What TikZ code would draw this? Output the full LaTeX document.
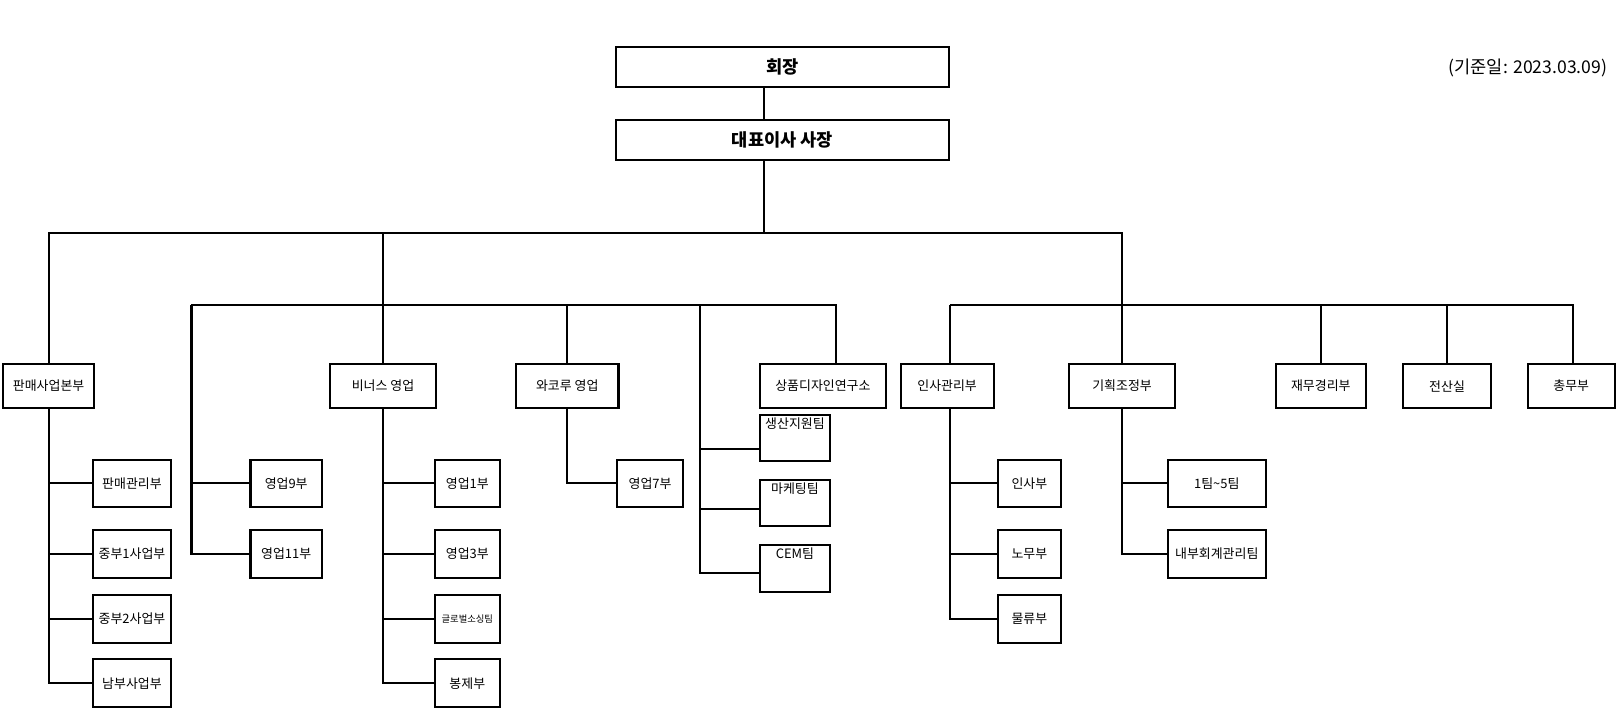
\documentclass[tikz,border=0pt]{standalone}
\usepackage{fontspec}
\setmainfont{Noto Sans CJK KR}
\tikzset{
    box/.style={draw,line width=2pt,inner sep=0pt,font=\fontsize{12.5}{14}\selectfont},
    topbox/.style={box,minimum width=321pt,minimum height=39pt,font=\fontsize{17}{20}\selectfont\bfseries},
    dept/.style={box,minimum height=42pt},
    team/.style={box,minimum height=46pt},
    hteam/.style={box,minimum height=45pt,text height=10pt,text depth=29pt}
}
\begin{document}
\begin{tikzpicture}[x=1pt,y=-1pt,line width=2pt]
    \useasboundingbox (0,0) rectangle (1567,688);
    % top
    \node [topbox] (chair) at (756,64.5) {회장};
    \node [topbox] (ceo) at (756,135.5) {대표이사 사장};
    \node [font=\fontsize{17}{20}\selectfont,anchor=east] (date) at (1557,66) {(기준일: 2023.03.09)};
    % departments
    \node [dept,minimum width=88pt] (hq) at (47,373) {판매사업본부};
    \node [dept,minimum width=103pt] (venus) at (370,373) {비너스 영업};
    \node [dept,minimum width=99pt] (wac) at (548,373) {와코루 영업};
    \node [dept,minimum width=121pt] (rnd) at (795,373) {상품디자인연구소};
    \node [dept,minimum width=90pt] (hrm) at (915,373) {인사관리부};
    \node [dept,minimum width=102pt] (gpl) at (1084,373) {기획조정부};
    \node [dept,minimum width=87pt] (fin) at (1276,373) {재무경리부};
    \node [dept,minimum width=85pt] (it) at (1398,373) {전산실};
    \node [dept,minimum width=84pt] (gen) at (1518,373) {총무부};
    % teams
    \node [team,minimum width=75pt] (hq1) at (127.5,467) {판매관리부};
    \node [team,minimum width=75pt] (hq2) at (127.5,535) {중부1사업부};
    \node [team,minimum width=75pt] (hq3) at (127.5,598) {중부2사업부};
    \node [team,minimum width=75pt] (hq4) at (127.5,660) {남부사업부};
    \node [team,minimum width=69pt] (y9) at (276.5,467) {영업9부};
    \node [team,minimum width=69pt] (y11) at (276.5,535) {영업11부};
    \node [team,minimum width=63pt] (v1) at (451.5,467) {영업1부};
    \node [team,minimum width=63pt] (v2) at (451.5,535) {영업3부};
    \node [team,minimum width=63pt,font=\fontsize{9}{10}\selectfont] (v3) at (451.5,598) {글로벌소싱팀};
    \node [team,minimum width=63pt] (v4) at (451.5,660) {봉제부};
    \node [team,minimum width=64pt] (w7) at (628,467) {영업7부};
    \node [hteam,minimum width=68pt] (prd) at (768,423) {생산지원팀};
    \node [hteam,minimum width=68pt] (mkt) at (768,486) {마케팅팀};
    \node [hteam,minimum width=68pt] (cem) at (768,549) {CEM팀};
    \node [team,minimum width=61pt] (h1) at (994.5,467) {인사부};
    \node [team,minimum width=61pt] (h2) at (994.5,535) {노무부};
    \node [team,minimum width=61pt] (h3) at (994.5,598) {물류부};
    \node [team,minimum width=95pt] (g1) at (1175.5,467) {1팀\textasciitilde5팀};
    \node [team,minimum width=95pt] (g2) at (1175.5,535) {내부회계관리팀};
    % buses
    \coordinate (b1) at (738,225);
    \coordinate (s9) at (185,295);
    \coordinate (pt) at (676,295);
    \coordinate (r1) at (808,295);
    \coordinate (r2) at (918,295);
    \coordinate (r3) at (1520,295);
    \coordinate (prdin) at (734,434);
    \coordinate (mktin) at (734,492);
    \coordinate (cemin) at (734,554);
    \draw (chair.south -| b1) -- (ceo.north -| b1);
    \draw (ceo.south -| b1) -- (b1);
    \draw (hq.north) |- (b1) -| (gpl.north);
    \draw (venus.north) -- (venus.north |- b1);
    \draw (s9) -- (r1) -- (rnd.north -| r1);
    \draw (wac.north) -- (wac.north |- s9);
    \draw (r2) -- (r3) -- (gen.north -| r3);
    \draw (fin.north) -- (fin.north |- r2);
    \draw (it.north) -- (it.north |- r2);
    \draw (r2) -- (hrm.north -| r2);
    % branches
    \draw (hq.south) |- (hq4);
    \foreach \t in {hq1,hq2,hq3} \draw (hq.south |- \t) -- (\t);
    \draw (s9) |- (y11);
    \draw (s9 |- y9) -- (y9);
    \draw (venus.south) |- (v4);
    \foreach \t in {v1,v2,v3} \draw (venus.south |- \t) -- (\t);
    \draw (wac.south) |- (w7);
    \draw (pt) |- (cemin);
    \draw (pt |- mktin) -- (mktin);
    \draw (pt |- prdin) -- (prdin);
    \draw (hrm.south -| r2) |- (h3);
    \foreach \t in {h1,h2} \draw (r2 |- \t) -- (\t);
    \draw (gpl.south) |- (g2);
    \draw (gpl.south |- g1) -- (g1);
\end{tikzpicture}
\end{document}
